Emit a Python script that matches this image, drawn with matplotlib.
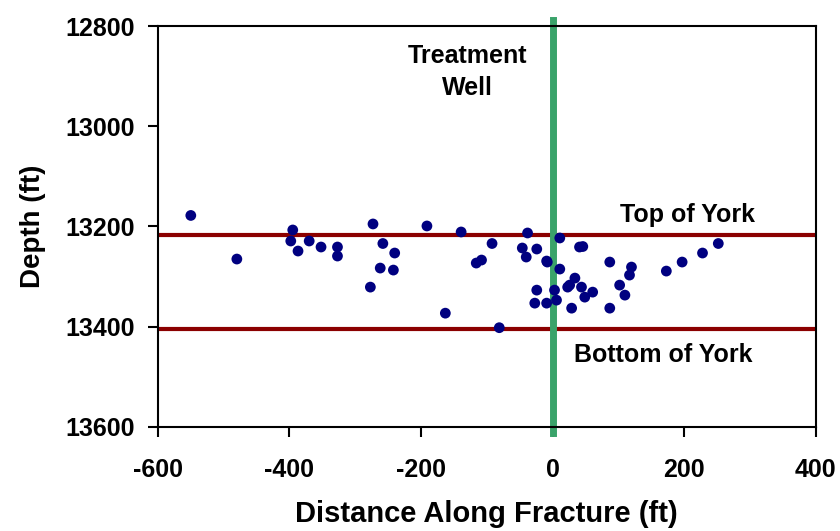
import matplotlib
matplotlib.use("Agg")
import matplotlib.pyplot as plt

plt.rcParams["font.family"] = ["Liberation Sans", "DejaVu Sans"]
plt.rcParams["axes.unicode_minus"] = False

# microseismic event locations (distance along fracture, depth)
distance_ft = [
    -550, -480, -395, -398, -387, -370, -352, -327, -327,
    -273, -191, -139, -258, -240, -262, -242, -277,
    -92, -116, -108, -163, -81,
    -38, -46, -40, -24, -9, 11, 11, -24, -27, -9, 6, 3,
    26, 34, 29, 41, 46, -8, 23, 44, 49, 61,
    87, 87, 102, 110, 120, 117, 173, 197, 228, 252,
]
depth_ft = [
    13178, 13265, 13207, 13229, 13249, 13229, 13241, 13241, 13259,
    13195, 13199, 13211, 13234, 13253, 13283, 13287, 13321,
    13234, 13273, 13267, 13373, 13402,
    13213, 13243, 13261, 13245, 13269, 13223, 13285, 13327, 13353, 13353, 13347, 13327,
    13317, 13303, 13363, 13241, 13240, 13271, 13321, 13321, 13341, 13331,
    13271, 13363, 13317, 13337, 13281, 13297, 13289, 13271, 13253, 13234,
]

top_of_york = 13217
bottom_of_york = 13404
well_x = 0

x_ticks = [-600, -400, -200, 0, 200, 400]
y_ticks = [12800, 13000, 13200, 13400, 13600]

fig = plt.figure(figsize=(8.4, 5.31), dpi=100)
ax = fig.add_axes([0.188, 0.196, 0.783, 0.755])

ax.axhline(top_of_york, color="#8b0000", lw=3, zorder=1)
ax.axhline(bottom_of_york, color="#8b0000", lw=3, zorder=1)
ax.plot([well_x, well_x], [12788, 13612], color="#3aa36a", lw=5,
        zorder=2, clip_on=False)
ax.scatter(distance_ft, depth_ft, marker="o", s=60, color="#000080",
           edgecolors="none", zorder=3)

ax.text(-129, 12892, "Treatment\nWell", ha="center", va="center",
        fontsize=18, fontweight="bold", linespacing=1.4)
ax.text(205, 13178, "Top of York", ha="center", va="center",
        fontsize=18, fontweight="bold")
ax.text(169, 13456, "Bottom of York", ha="center", va="center",
        fontsize=18, fontweight="bold")

ax.set_xlim(-600, 400)
ax.set_ylim(13600, 12800)
ax.set_xticks(x_ticks)
ax.set_yticks(y_ticks)
ax.tick_params(direction="out", length=7.5, width=1.5, labelsize=18)
ax.tick_params(axis="x", pad=15)
ax.tick_params(axis="y", pad=9)
for lbl in ax.get_xticklabels() + ax.get_yticklabels():
    lbl.set_fontweight("bold")
for sp in ax.spines.values():
    sp.set_linewidth(1.5)

ax.set_xlabel("Distance Along Fracture (ft)", fontsize=21,
              fontweight="bold", labelpad=13)
ax.set_ylabel("Depth (ft)", fontsize=20, fontweight="bold", labelpad=14)

fig.savefig("out.png", dpi=100)
